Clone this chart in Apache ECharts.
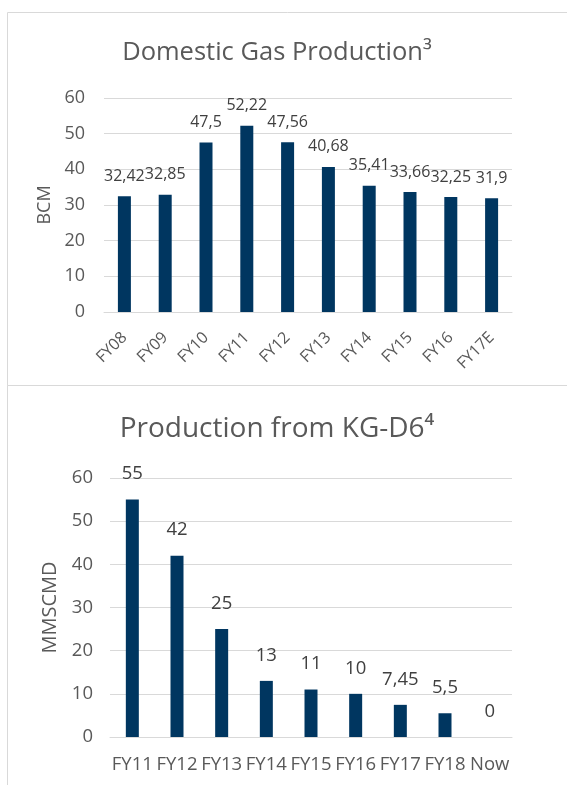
<!DOCTYPE html>
<html>
<head>
<meta charset="utf-8">
<script src="https://cdn.jsdelivr.net/npm/echarts@6/dist/echarts.min.js"></script>
<style>
  html, body { margin: 0; padding: 0; background: #fff; }
  #chart { width: 567px; height: 785px; }
</style>
</head>
<body>
<div id="chart"></div>
<script>
// 国内产量 (BCM)
var gasYears = ["FY08", "FY09", "FY10", "FY11", "FY12", "FY13", "FY14", "FY15", "FY16", "FY17E"];
var gasValues = [32.42, 32.85, 47.5, 52.22, 47.56, 40.68, 35.41, 33.66, 32.25, 31.9];
// KG-D6 产量 (MMSCMD)
var kgYears = ["FY11", "FY12", "FY13", "FY14", "FY15", "FY16", "FY17", "FY18", "Now"];
var kgValues = [55, 42, 25, 13, 11, 10, 7.45, 5.5, 0];
var yTicks = [0, 10, 20, 30, 40, 50, 60];

var barColor = "#003660";
var textGray = "#595959";
var font = "Open Sans";

function commaLabel(p) {
  return String(p.value).replace(".", ",");
}

var chart = echarts.init(document.getElementById("chart"));
chart.setOption({
  animation: false,
  textStyle: { fontFamily: font },
  graphic: [
    {
      type: "rect",
      shape: { x: 7.5, y: 12.5, width: 600, height: 373 },
      style: { fill: "none", stroke: "#d9d9d9", lineWidth: 1 }
    },
    {
      type: "rect",
      shape: { x: 7.5, y: 385.5, width: 600, height: 420 },
      style: { fill: "none", stroke: "#d9d9d9", lineWidth: 1 }
    }
  ],
  title: [
    {
      text: "Domestic Gas Production³",
      left: 272,
      top: 35,
      textAlign: "center",
      textStyle: { fontFamily: font, fontSize: 25.5, fontWeight: "normal", color: textGray }
    },
    {
      text: "Production from KG-D6⁴",
      left: 272,
      top: 410,
      textAlign: "center",
      textStyle: { fontFamily: font, fontSize: 28, fontWeight: "normal", color: textGray }
    }
  ],
  grid: [
    { left: 104, right: 55, top: 98, height: 214 },
    { left: 110, right: 55, top: 478, height: 259 }
  ],
  xAxis: [
    {
      type: "category",
      gridIndex: 0,
      data: gasYears,
      axisLine: { lineStyle: { color: "#d9d9d9" } },
      axisTick: { show: false },
      axisLabel: { rotate: 45, color: textGray, fontSize: 16, margin: 23, interval: 0 }
    },
    {
      type: "category",
      gridIndex: 1,
      data: kgYears,
      axisLine: { lineStyle: { color: "#d9d9d9" } },
      axisTick: { show: false },
      axisLabel: { color: textGray, fontSize: 18.5, margin: 18, interval: 0 }
    }
  ],
  yAxis: [
    {
      type: "value",
      gridIndex: 0,
      min: yTicks[0],
      max: yTicks[yTicks.length - 1],
      interval: 10,
      name: "BCM",
      nameLocation: "middle",
      nameGap: 48,
      nameTextStyle: { color: textGray, fontSize: 18 },
      axisLine: { show: false },
      axisTick: { show: false },
      axisLabel: { color: textGray, fontSize: 18, margin: 19 },
      splitLine: { lineStyle: { color: "#d9d9d9" } }
    },
    {
      type: "value",
      gridIndex: 1,
      min: yTicks[0],
      max: yTicks[yTicks.length - 1],
      interval: 10,
      name: "MMSCMD",
      nameLocation: "middle",
      nameGap: 50,
      nameTextStyle: { color: textGray, fontSize: 20 },
      axisLine: { show: false },
      axisTick: { show: false },
      axisLabel: { color: textGray, fontSize: 18.5, margin: 17 },
      splitLine: { lineStyle: { color: "#d9d9d9" } }
    }
  ],
  series: [
    {
      type: "bar",
      xAxisIndex: 0,
      yAxisIndex: 0,
      data: gasValues,
      barWidth: 13,
      itemStyle: { color: barColor },
      label: {
        show: true,
        position: "top",
        distance: 12,
        color: "#404040",
        fontSize: 16,
        formatter: commaLabel
      }
    },
    {
      type: "bar",
      xAxisIndex: 1,
      yAxisIndex: 1,
      data: kgValues,
      barWidth: 13,
      itemStyle: { color: barColor },
      label: {
        show: true,
        position: "top",
        distance: 16,
        color: "#404040",
        fontSize: 18.5,
        formatter: commaLabel
      }
    }
  ]
});
</script>
</body>
</html>
